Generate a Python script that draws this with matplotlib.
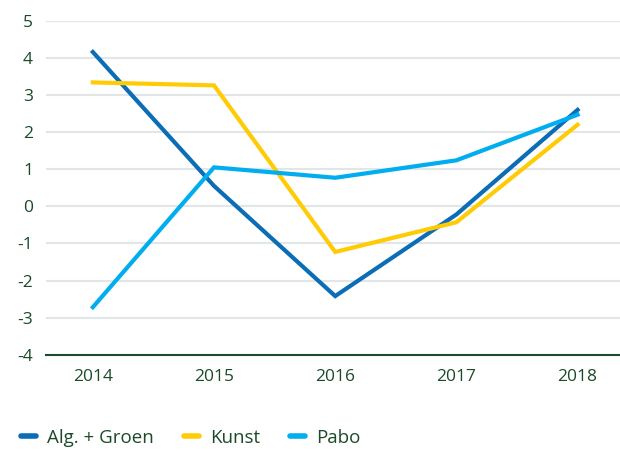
import matplotlib
matplotlib.use("Agg")
import matplotlib.pyplot as plt
from matplotlib.lines import Line2D

plt.rcParams['font.family'] = ['Open Sans', 'DejaVu Sans']

years = ["2014", "2015", "2016", "2017", "2018"]
alg_groen = [4.16, 0.55, -2.42, -0.22, 2.6]
kunst = [3.34, 3.26, -1.23, -0.43, 2.2]
pabo = [-2.72, 1.05, 0.77, 1.24, 2.47]
yticks = [-4, -3, -2, -1, 0, 1, 2, 3, 4, 5]

series = [
    ("Alg. + Groen", alg_groen, "#0a6db5"),
    ("Kunst", kunst, "#ffcb05"),
    ("Pabo", pabo, "#00adee"),
]
text_color = "#1b4a28"

fig = plt.figure(figsize=(6.2, 4.53), dpi=100)
ax = fig.add_axes([0.0735, 0.217, 0.9265, 0.737])

x = list(range(len(years)))
for name, vals, col in series:
    ax.plot(x, vals, color=col, lw=3.0, solid_joinstyle='miter', zorder=3)

ax.set_xlim(-0.39, 4.35)
ax.set_ylim(-4, 5)
ax.set_yticks(yticks)
ax.set_yticklabels([str(v).replace('\u2212', '-') for v in yticks])
ax.set_xticks(x)
ax.set_xticklabels(years)

for v in yticks[1:]:
    ax.axhline(v, color="#e2e6e6", lw=1.5, zorder=1)

for s in ["top", "right", "left"]:
    ax.spines[s].set_visible(False)
ax.spines["bottom"].set_color(text_color)
ax.spines["bottom"].set_linewidth(1.5)
ax.spines["bottom"].set_zorder(4)

ax.tick_params(axis='both', length=0, colors=text_color, labelsize=12.5)
ax.tick_params(axis='y', pad=9)
ax.tick_params(axis='x', pad=10)

handles = [Line2D([0], [0], color=c, lw=4, solid_capstyle='round') for _, _, c in series]
fig.legend(handles, [n for n, _, _ in series], loc='center left',
           bbox_to_anchor=(0.018, 0.033), ncol=3, frameon=False, borderpad=0,
           handlelength=0.8, handletextpad=0.62, columnspacing=1.58,
           prop={'size': 13.5}, labelcolor=text_color)

fig.savefig("out.png", dpi=100)
